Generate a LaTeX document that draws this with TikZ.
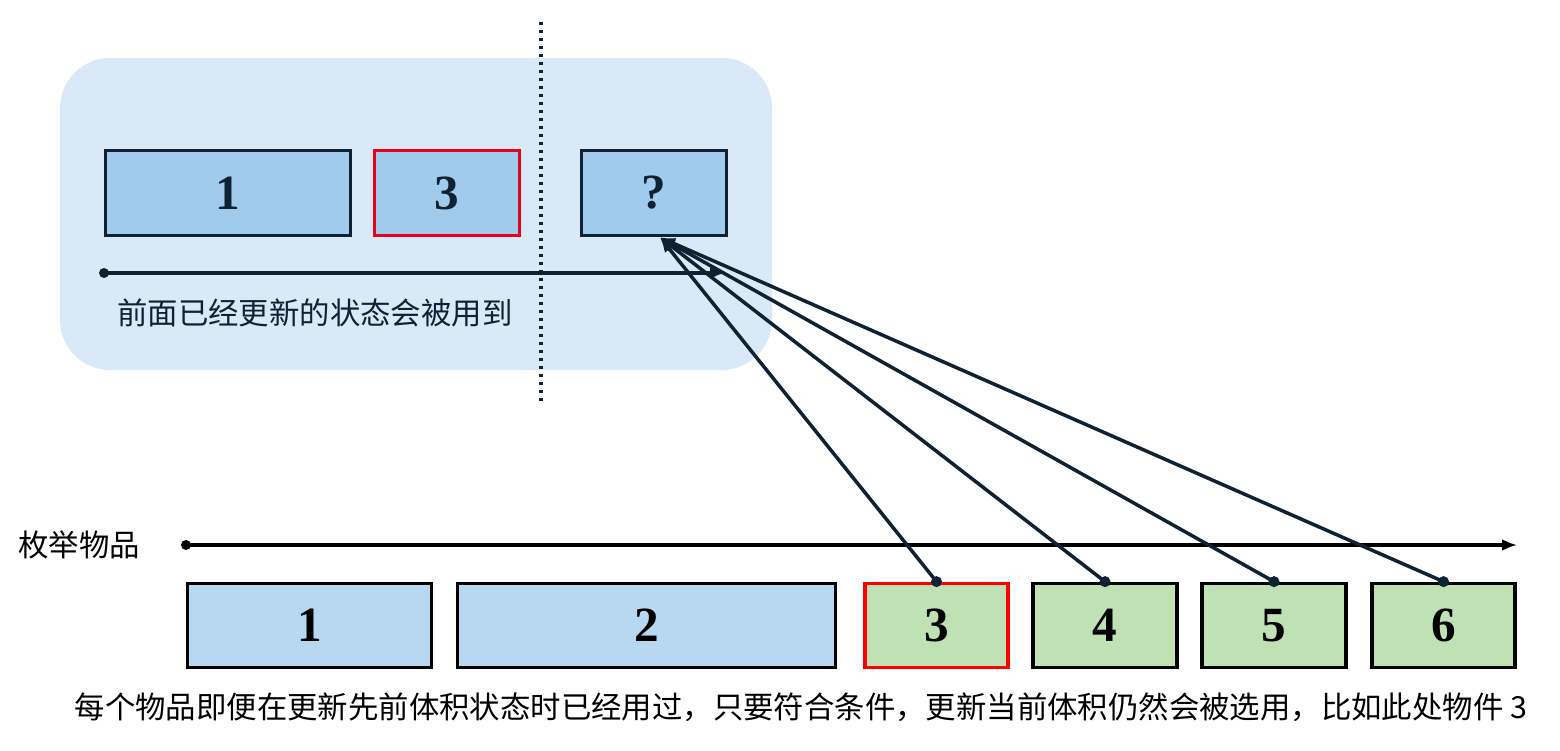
\documentclass[tikz,border=0pt]{standalone}
\usepackage{fontspec}
\setmainfont{Liberation Serif}
\newfontfamily\cjk{Noto Sans CJK SC}
\usepackage{tikz}
\usetikzlibrary{arrows.meta}
\usepackage{xcolor}
\definecolor{bgblue}{HTML}{DAE9F7}
\definecolor{topfill}{HTML}{A0CBEC}
\definecolor{botfill}{HTML}{B7D8F0}
\definecolor{greenfill}{HTML}{C0E1B3}
\definecolor{navy}{HTML}{0F2233}
\definecolor{redline}{HTML}{E8001C}

\begin{document}
\begin{tikzpicture}[
          every node/.style={inner sep=0pt},
          cell/.style={line width=0.075cm,minimum height=1.7cm,font=\fontsize{28}{28}\selectfont\bfseries},
          topcell/.style={cell,draw=navy,fill=topfill,text=navy},
          botcell/.style={cell,draw=black,fill=botfill,minimum height=1.68cm},
          grncell/.style={cell,draw=black,fill=greenfill,minimum height=1.68cm,minimum width=2.87cm},
          label/.style={font=\cjk\fontsize{17.3}{17.3}\selectfont},
          pick/.style={line width=0.07cm,-{Latex[length=0.3cm,width=0.24cm]}},
        ]
        \useasboundingbox (0,0) rectangle (31.2,15);
        % area already updated
        \fill[bgblue,rounded corners=1cm] (1.2,7.6) rectangle (15.44,13.84);
        \draw[navy,line width=0.066cm,dash pattern=on 0.066cm off 0.094cm] (10.82,14.56) -- (10.82,6.92);

        \node[topcell,minimum width=4.9cm] (t1) at (4.56,11.14) {1};
        \node[topcell,draw=redline,minimum width=2.9cm] (t3) at (8.94,11.14) {3};
        \node[topcell,minimum width=2.9cm] (tq) at (13.08,11.14) {?};
        \coordinate (hit) at ([xshift=0.12cm]tq.south);

        \coordinate (ts) at (2.08,9.54);
        \coordinate (te) at (14.5,9.54);
        \fill[navy] (ts) circle (0.1cm);
        \draw[pick,navy] (ts) -- (te);
        \node[label,text=navy,anchor=west] (tlab) at (2.34,8.74) {前面已经更新的状态会被用到};

        % items
        \node[label,anchor=west] (enum) at (0.36,4.1) {枚举物品};
        \coordinate (es) at (3.72,4.1);
        \coordinate (ee) at (30.34,4.1);
        \fill (es) circle (0.1cm);
        \draw[pick] (es) -- (ee);

        \node[botcell,minimum width=4.88cm] (b1) at (6.19,2.49) {1};
        \node[botcell,minimum width=7.56cm] (b2) at (12.93,2.49) {2};
        \node[grncell,draw=red] (b3) at (18.73,2.49) {3};
        \foreach \i/\x in {4/22.1,5/25.48,6/28.87} {
          \node[grncell] (b\i) at (\x,2.49) {\i};
        }
        \foreach \i in {3,4,5,6} {
          \fill[navy] (b\i.north) circle (0.11cm);
          \draw[pick,navy] (b\i.north) -- (hit);
        }

        \node[label] (note) at (16.02,0.86) {每个物品即便在更新先前体积状态时已经用过，只要符合条件，更新当前体积仍然会被选用，比如此处物件 3};
      \end{tikzpicture}
\end{document}
